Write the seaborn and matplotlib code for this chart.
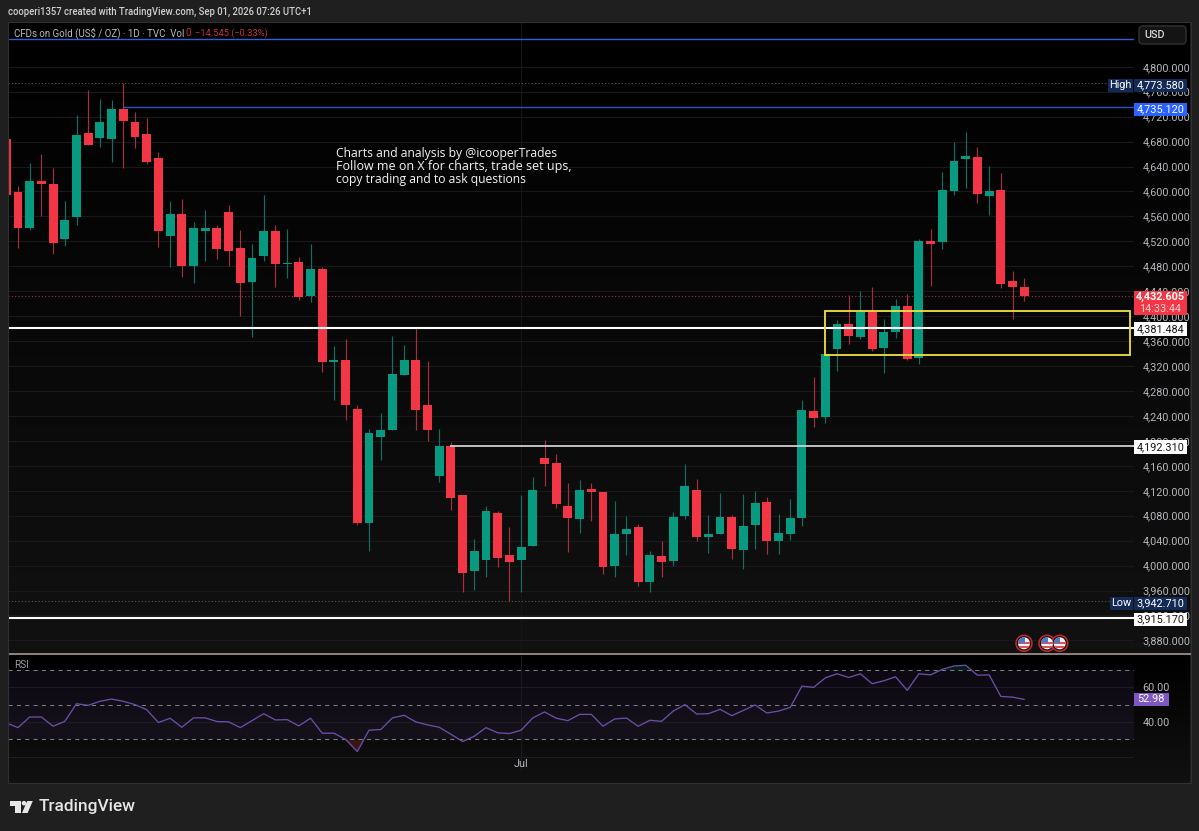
import numpy as np
import pandas as pd
import matplotlib
matplotlib.use("Agg")
import matplotlib.pyplot as plt
from matplotlib.patches import Rectangle, Circle, FancyBboxPatch, Polygon
import seaborn as sns

# ---------------------------
# data, first candle is cut by the left edge
# ---------------------------
opens = [4684, 4599, 4542, 4616, 4612, 4523, 4559, 4693, 4685, 4684, 4733, 4712, 4692, 4653, 4529, 4564, 4481, 4537,
         4541, 4567, 4509, 4455, 4496, 4536, 4483, 4487, 4433, 4475, 4327, 4329, 4251, 4068, 4206, 4217, 4306, 4329,
         4257, 4143, 4191, 4114, 3992, 4009, 4084, 4017, 4009, 4032, 4173, 4164, 4096, 4075, 4123, 4118, 4000, 4050,
         4062, 3974, 4016, 4007, 4080, 4121, 4046, 4050, 4078, 4025, 4065, 4102, 4039, 4051, 4076, 4248, 4238, 4347,
         4388, 4367, 4407, 4349, 4374, 4416, 4333, 4521, 4519, 4601, 4652, 4656, 4593, 4603, 4457, 4446]
closes = [4595, 4542, 4616, 4612, 4518, 4554, 4690, 4675, 4712, 4732, 4713, 4687, 4647, 4537, 4564, 4481, 4541, 4541,
          4507, 4504, 4454, 4494, 4536, 4483, 4486, 4431, 4475, 4326, 4329, 4258, 4068, 4212, 4218, 4308, 4329, 4250,
          4217, 4191, 4109, 3988, 4024, 4087, 4012, 4005, 4030, 4122, 4163, 4099, 4076, 4122, 4118, 3998, 4051, 4058,
          3974, 4017, 4006, 4078, 4127, 4046, 4051, 4078, 4026, 4064, 4101, 4039, 4053, 4076, 4249, 4237, 4340, 4388,
          4369, 4407, 4348, 4375, 4416, 4331, 4521, 4516, 4602, 4649, 4657, 4596, 4600, 4452, 4446, 4432.6]
highs = [4700, 4609, 4645, 4660, 4638, 4585, 4722, 4763, 4748, 4747, 4773.6, 4727, 4718, 4664, 4584, 4588, 4551, 4570,
         4546, 4579, 4539, 4516, 4595, 4546, 4540, 4495, 4515, 4479, 4352, 4363, 4257, 4219, 4245, 4368, 4354, 4381,
         4328, 4219, 4198, 4114, 4042, 4095, 4087, 4062, 4114, 4142, 4202, 4179, 4132, 4138, 4133, 4118, 4103, 4080,
         4067, 4023, 4040, 4086, 4163, 4139, 4081, 4116, 4081, 4115, 4120, 4110, 4083, 4106, 4266, 4303, 4340, 4394,
         4434, 4440, 4447, 4395, 4428, 4435, 4523, 4540, 4632, 4680, 4696, 4672, 4641, 4630, 4472, 4461]
lows = [4585, 4510, 4538, 4560, 4499, 4513, 4546, 4675, 4672, 4647, 4637, 4669, 4644, 4511, 4479, 4463, 4453, 4488,
        4491, 4480, 4400, 4366, 4488, 4447, 4462, 4426, 4423, 4311, 4266, 4234, 4065, 4023, 4169, 4217, 4306, 4218,
        4200, 4134, 4089, 3958, 3961, 3982, 3998, 3942.7, 3958, 4031, 4127, 4092, 4021, 4052, 4071, 3986, 3982, 4017,
        3968, 3958, 3981, 4000, 4075, 4039, 4020, 4050, 4010, 3995, 4027, 4019, 4018, 4041, 4064, 4222, 4229, 4312,
        4356, 4363, 4344, 4309, 4365, 4329, 4324, 4449, 4508, 4595, 4605, 4581, 4563, 4445, 4396, 4424]
rsi_values = [39.5, 36.8, 42.9, 42.9, 37.6, 40.4, 50.5, 49.6, 51.9, 53.2, 51.9, 50.0, 47.1, 39.7, 42.2, 37.0, 42.4,
              42.4, 40.3, 40.1, 36.8, 40.8, 44.8, 41.2, 41.4, 37.8, 42.2, 33.6, 33.6, 30.0, 23.1, 35.3, 35.7, 42.4,
              43.9, 40.1, 38.4, 37.0, 33.0, 28.8, 31.9, 36.8, 33.8, 33.4, 35.3, 42.4, 45.8, 42.2, 40.8, 44.4, 44.4,
              37.6, 41.8, 42.3, 37.6, 41.0, 40.4, 46.3, 50.0, 44.6, 44.8, 47.3, 43.7, 46.7, 49.8, 45.2, 46.3, 48.4,
              60.6, 59.9, 65.4, 67.7, 65.6, 67.7, 62.0, 63.7, 66.0, 58.2, 67.7, 67.1, 70.3, 72.2, 72.6, 66.9, 67.1,
              54.7, 54.3, 53.0]
rsi_start_idx = -1
price_ticks = list(range(3880, 4801, 40))
rsi_ticks = [40, 60]
jul_idx = 43

top_line = 4845.3
high_price = 4773.58
blue_level = 4735.12
white_level = 4381.484
mid_level = 4192.31
low_price = 3942.71
bottom_level = 3915.17
last_price = 4432.605
zone_top, zone_bottom = 4408.4, 4338.5

df = pd.DataFrame({"open": opens, "close": closes, "high": highs, "low": lows})
df["idx"] = np.arange(len(df)) - 1
df["bottom"] = df[["open", "close"]].min(axis=1)
df["height"] = (df["open"] - df["close"]).abs()
rsi_df = pd.DataFrame({"idx": rsi_start_idx + np.arange(len(rsi_values)), "rsi": rsi_values})

# ---------------------------
# style and layout
# ---------------------------
sns.set_theme(style="dark")
plt.rcParams["font.family"] = ["Roboto", "DejaVu Sans"]

GREEN, RED = "#089981", "#F23645"
GREEN_WICK, RED_WICK = "#0f6f60", "#a5303c"
TICK = "#b4b6bb"
W, H = 1199, 831


def pane(x0, y0, x1, y1):
    return [x0 / W, 1 - y1 / H, (x1 - x0) / W, (y1 - y0) / H]


fig = plt.figure(figsize=(W / 100, H / 100), dpi=100, facecolor="#1f1f1f")

# dark gradient behind both panes, price scale included
for y0, y1 in [(22, 653), (655, 783)]:
    bg = fig.add_axes(pane(8, y0, 1190, y1), zorder=0)
    bg.imshow(np.linspace(0, 1, 64).reshape(-1, 1), aspect="auto", cmap="gray", vmin=0, vmax=15)
    bg.axis("off")

ax = fig.add_axes(pane(8, 22, 1134, 653), zorder=1, facecolor="none")
rsi_ax = fig.add_axes(pane(8, 655, 1134, 783), zorder=1, facecolor="none")
xlim = (-0.855, 95.38)

# ---------------------------
# candles
# ---------------------------
ax.vlines(df["idx"], df["low"], df["high"],
          colors=[RED_WICK if c < o else GREEN_WICK for o, c in zip(opens, closes)], linewidth=0.85, zorder=2)
for sub, col in [(df[df["close"] < df["open"]], RED), (df[df["close"] >= df["open"]], GREEN)]:
    sns.barplot(data=sub, x="idx", y="height", bottom=sub["bottom"], native_scale=True, color=col, saturation=1,
                width=0.76, errorbar=None, ax=ax, zorder=3, linewidth=0)

for level, col, lw, start in [(top_line, "#3360d8", 1.0, xlim[0]), (blue_level, "#2f52c4", 1.0, 9),
                              (white_level, "#ffffff", 1.5, xlim[0]), (mid_level, "#d0d0d0", 1.3, 36.9),
                              (bottom_level, "#ffffff", 1.5, xlim[0])]:
    ax.hlines(level, start, xlim[1], color=col, linewidth=lw, zorder=4)
ax.axhline(high_price, color="#5a5a5a", linewidth=0.8, linestyle=(0, (1, 2)), zorder=1)
ax.axhline(low_price, color="#5a5a5a", linewidth=0.8, linestyle=(0, (1, 2)), zorder=1)
ax.axhline(last_price, color="#a5303c", linewidth=0.8, linestyle=(0, (1, 2)), zorder=1)
ax.add_patch(Rectangle((68.97, zone_bottom), 95.04 - 68.97, zone_top - zone_bottom, fill=False,
                       edgecolor="#f2e33f", linewidth=1.3, zorder=5))
ax.axvline(jul_idx, color="#161616", linewidth=0.8, zorder=0)

ax.set_xlim(*xlim)
ax.set_ylim(3859.8, 4871.8)
ax.set_xlabel("")
ax.set_ylabel("")
ax.set_xticks([])
ax.set_yticks(price_ticks)
ax.set_yticklabels([f"{p:,.3f}" for p in price_ticks])
ax.yaxis.tick_right()
ax.tick_params(axis="y", length=0, pad=6, labelsize=7.8, labelcolor=TICK)
ax.grid(axis="y", color="#191919", linewidth=0.8)
ax.set_axisbelow(True)
for s in ax.spines.values():
    s.set_visible(False)

# ---------------------------
# RSI pane
# ---------------------------
rsi_ax.axhspan(30, 70, color="#7e57c2", alpha=0.09, linewidth=0, zorder=0)
rsi_arr = rsi_df["rsi"].to_numpy()
rsi_ax.fill_between(rsi_df["idx"], rsi_arr, 30, where=rsi_arr < 30, interpolate=True, color=RED, alpha=0.2, linewidth=0)
rsi_ax.fill_between(rsi_df["idx"], rsi_arr, 70, where=rsi_arr > 70, interpolate=True, color=GREEN, alpha=0.2, linewidth=0)
for lv in [30, 50, 70]:
    rsi_ax.axhline(lv, color="#7b7d85", linewidth=0.75, linestyle=(0, (4, 4)), zorder=1)
sns.lineplot(data=rsi_df, x="idx", y="rsi", ax=rsi_ax, color="#6a4fa6", linewidth=0.95, errorbar=None, zorder=3)
rsi_ax.vlines(jul_idx, 12.5, 78.5, color="#1b1b1b", linewidth=0.8, zorder=0)
rsi_ax.set_xlim(*xlim)
rsi_ax.set_ylim(5.0, 78.5)
rsi_ax.set_xlabel("")
rsi_ax.set_ylabel("")
rsi_ax.set_xticks([jul_idx])
rsi_ax.set_xticklabels(["Jul"])
rsi_ax.set_yticks(rsi_ticks + [20])
rsi_ax.set_yticklabels([f"{v:.2f}" for v in rsi_ticks] + [""])
rsi_ax.yaxis.tick_right()
rsi_ax.tick_params(axis="y", length=0, pad=6, labelsize=7.8, labelcolor=TICK)
rsi_ax.tick_params(axis="x", length=0, pad=-17, labelsize=7.8, labelcolor=TICK)
rsi_ax.grid(axis="y", color="#1e1b26", linewidth=0.8)
rsi_ax.grid(axis="x", visible=False)
rsi_ax.set_axisbelow(True)
for s in rsi_ax.spines.values():
    s.set_visible(False)

# ---------------------------
# overlay in pixel coords: header, badges, logo
# ---------------------------
ov = fig.add_axes([0, 0, 1, 1], zorder=5, facecolor="none")
ov.set_xlim(0, W)
ov.set_ylim(H, 0)
ov.axis("off")


def badge(x0, x1, yc, bg, label, col="#ffffff", h=13.4, **kw):
    ov.add_patch(Rectangle((x0, yc - h / 2), x1 - x0, h, facecolor=bg, edgecolor="none"))
    ov.text((x0 + x1) / 2, yc, label, color=col, ha="center", va="center", fontsize=7.8, **kw)


ov.add_patch(Rectangle((7.5, 653), 1183, 1.6, facecolor="#8c807c", edgecolor="none"))
ov.add_patch(Rectangle((7.5, 22), 1183, 761, fill=False, edgecolor="#303030", linewidth=0.8))

ov.text(8, 11.7, "cooperi1357 created with TradingView.com, Sep 01, 2026 07:26 UTC+1", color="#d0d0d0",
        fontsize=6.85, va="center", fontweight="medium")
ov.text(14.5, 33, "CFDs on Gold (US$ / OZ) · 1D · TVC  Vol", color="#b8bac0", fontsize=7.0, va="center")
ov.text(185.5, 33, "0", color="#c9303c", fontsize=7.0, va="center")
ov.text(195, 33, "−14.545 (−0.33%)", color="#c9303c", fontsize=6.7, va="center")

for i, (line, fs) in enumerate([("Charts and analysis by @icooperTrades", 8.7),
                                ("Follow me on X for charts, trade set ups,", 9.0),
                                ("copy trading and to ask questions", 8.75)]):
    ov.text(336, 153 + i * 13.2, line, color="#f4f4f4", fontsize=fs, va="center", family="Open Sans")

ov.add_patch(FancyBboxPatch((1139, 26), 47, 18, boxstyle="round,pad=0,rounding_size=4", facecolor="#141414",
                            edgecolor="#2c2c2c", linewidth=1.2, mutation_aspect=1))
ov.text(1144, 35.3, "USD", color="#d6d6d6", fontsize=7.8, va="center", fontweight="medium")

badge(1108, 1133, 85.5, "#142a56", "High")
badge(1134, 1187, 85.5, "#142a56", "4,773.580")
badge(1134, 1187, 109.3, "#2962ff", "4,735.120")
ov.add_patch(Rectangle((1134, 291), 53, 24, facecolor=RED, edgecolor="none"))
ov.text(1160.5, 297, "4,432.605", color="#ffffff", ha="center", va="center", fontsize=7.8, fontweight="bold")
ov.text(1160.5, 308.5, "14:33:44", color="#ffd0d4", ha="center", va="center", fontsize=7.8)
badge(1134, 1187, 329, "#ffffff", "4,381.484", col="#161616")
badge(1134, 1187, 447, "#ffffff", "4,192.310", col="#161616")
badge(1110, 1133, 603.3, "#142a56", "Low")
badge(1134, 1187, 603.3, "#142a56", "3,942.710")
badge(1134, 1187, 619.3, "#ffffff", "3,915.170", col="#161616")
badge(1134, 1168.6, 699.5, "#7e57c2", "52.98")
ov.text(14, 665, "RSI", color="#9a9ca3", fontsize=7.2, va="center")

# small US flag event markers
for fx in [1024, 1047, 1059.7]:
    cy = 643.3
    ov.add_patch(Circle((fx, cy), 8, facecolor="#131313", edgecolor="#c62828", linewidth=1.1, zorder=3))
    inner = Circle((fx, cy), 6, facecolor="#f0f0f0", edgecolor="none", zorder=4)
    ov.add_patch(inner)
    for k in (-1, 3):
        st = ov.add_patch(Rectangle((fx - 6, cy + k), 12, 1.7, facecolor="#d8535d", edgecolor="none", zorder=5))
        st.set_clip_path(inner)
    canton = ov.add_patch(Rectangle((fx - 6, cy - 6), 6.5, 6, facecolor="#4a78c8", edgecolor="none", zorder=6))
    canton.set_clip_path(inner)

# logo
LOGO = "#e6e6e6"
ov.add_patch(Polygon([(9.5, 801), (20.5, 801), (20.5, 813), (15, 813), (15, 805.5), (9.5, 805.5)], facecolor=LOGO,
                     edgecolor="none"))
ov.add_patch(Circle((24, 803.2), 2.3, facecolor=LOGO, edgecolor="none"))
ov.add_patch(Polygon([(22, 813), (27.2, 801), (32.8, 801), (27.6, 813)], facecolor=LOGO, edgecolor="none"))
ov.text(39, 807, "TradingView", color=LOGO, fontsize=12.4, va="center", fontweight="medium")

plt.savefig("out.png", dpi=100, facecolor=fig.get_facecolor())
